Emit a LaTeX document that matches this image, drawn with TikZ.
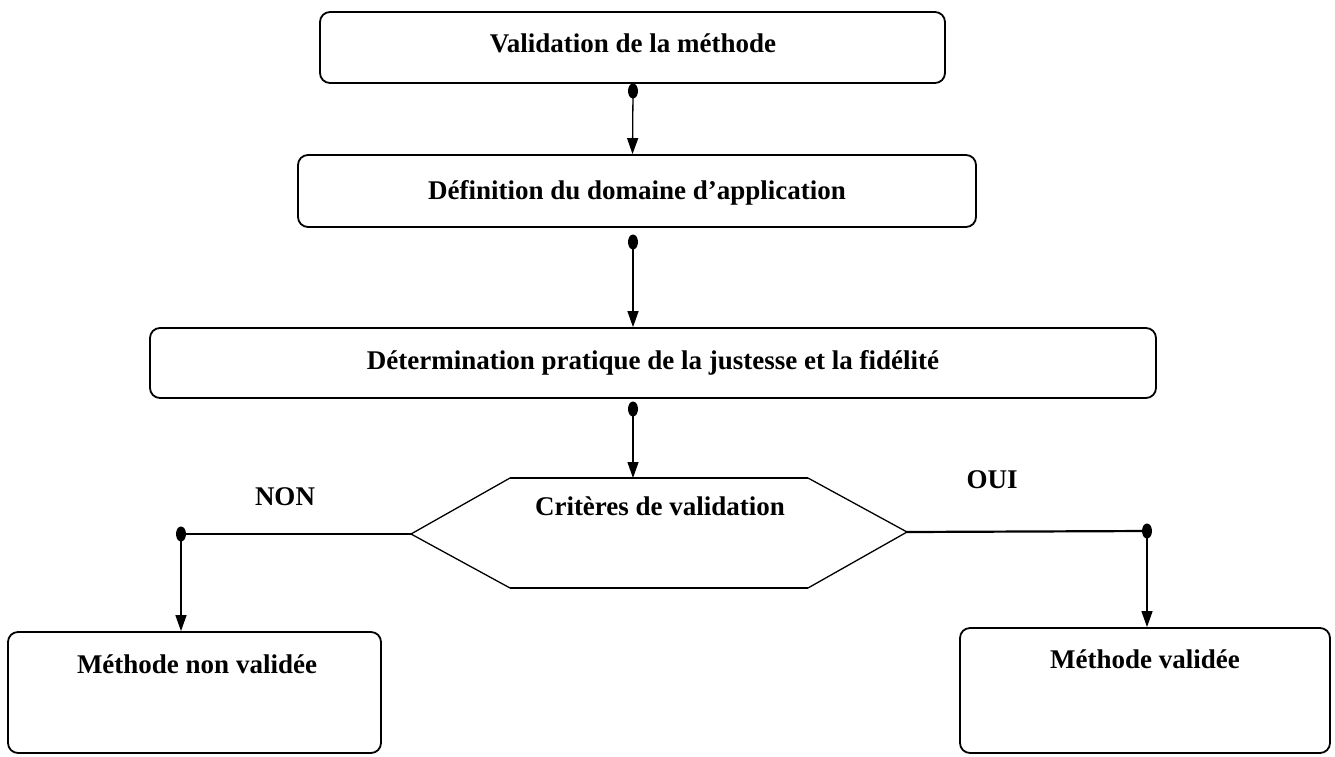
\documentclass[tikz,border=0pt]{standalone}
\usepackage{fontspec}
\setmainfont{Liberation Serif}
\usetikzlibrary{arrows.meta,shapes.geometric}
\begin{document}
\begin{tikzpicture}[x=1pt,y=-1pt,
  boxst/.style={draw, line width=1.8pt, rounded corners=10pt, inner sep=0pt},
  lbl/.style={font=\fontsize{27}{32}\selectfont\bfseries, inner sep=0pt, anchor=base},
  conn/.style={line width=1.3pt, -{Triangle[width=11pt,length=16pt]}},
  hline/.style={line width=2.2pt},
  dotst/.style={fill=black, ellipse, minimum width=10pt, minimum height=15pt, inner sep=0pt}
]
\useasboundingbox (0,0) rectangle (1335,756);
% boxes
\node[boxst, minimum width=625pt, minimum height=71pt] (b1) at (632.5,47.5) {};
\node[boxst, minimum width=678pt, minimum height=72pt] (b2) at (637,191) {};
\node[boxst, minimum width=1006pt, minimum height=70pt] (b3) at (653,363) {};
\node[boxst, minimum width=373pt, minimum height=121pt] (b4) at (194.5,692.5) {};
\node[boxst, minimum width=370pt, minimum height=125pt] (b5) at (1145,690.5) {};
% hexagon
\coordinate (hl) at (411,534);
\coordinate (htl) at (510,478);
\coordinate (htr) at (808,478);
\coordinate (hr) at (907,532);
\coordinate (hbr) at (808,588);
\coordinate (hbl) at (510,588);
\draw[line width=1.3pt] (hl) -- (htl) (htr) -- (hr) -- (hbr) (hbl) -- (hl);
\draw[line width=2.2pt] (htl) -- (htr) (hbr) -- (hbl);
% texts
\node[lbl] (t1) at (633,52) {Validation de la méthode};
\node[lbl] (t2) at (637,199) {Définition du domaine d’application};
\node[lbl] (t3) at (653,369) {Détermination pratique de la justesse et la fidélité};
\node[lbl] (t4) at (660,515) {Critères de validation};
\node[lbl] (t5) at (197,673) {Méthode non validée};
\node[lbl] (t6) at (1145,668) {Méthode validée};
\node[lbl] (non) at (285,505) {NON};
\node[lbl] (oui) at (992,488) {OUI};
% dots
\node[dotst] (d1) at (633,91) {};
\node[dotst] (d2) at (633,242) {};
\node[dotst] (d3) at (633,409) {};
\node[dotst] (d4) at (181,534) {};
\node[dotst] (d5) at (1147,531) {};
% connectors
\draw[conn] (d1.center) -- (b1.south |- b2.north);
\draw[conn] (d2.center) -- (d2.center |- b3.north);
\draw[conn] (d3.center) -- (d3.center |- htl);
\draw[hline] (hl) -- (d4.center);
\draw[hline] (hr) -- (d5.center);
\draw[conn] (d4.center) -- (d4.center |- b4.north);
\draw[conn] (d5.center) -- (d5.center |- b5.north);
\end{tikzpicture}
\end{document}
